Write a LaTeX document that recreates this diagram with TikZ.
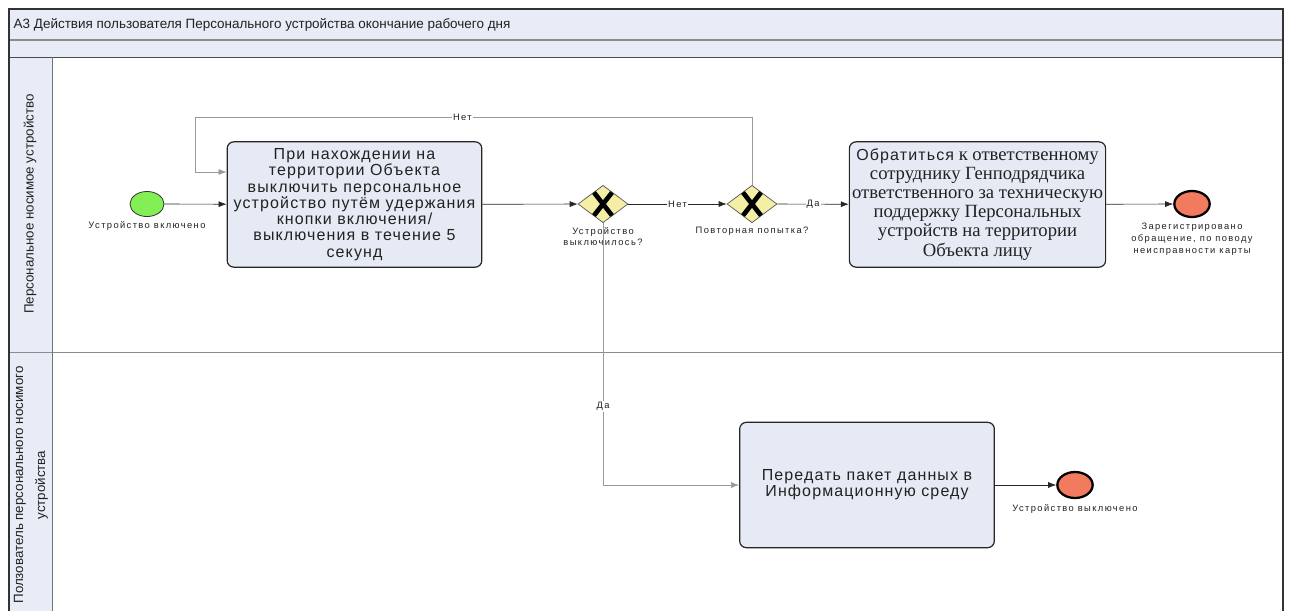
\documentclass[tikz,border=0pt]{standalone}
\usepackage{fontspec}
\setmainfont{Liberation Sans}
\newfontfamily\serifru{Liberation Serif}
\newfontfamily\tasksans[LetterSpace=7]{Liberation Sans}
\newfontfamily\smallsans[LetterSpace=15]{Liberation Sans}
\usetikzlibrary{arrows.meta, shapes.geometric, positioning}

\definecolor{bandfill}{HTML}{E8ECF6}
\definecolor{taskfill}{HTML}{E6EAF4}
\definecolor{gatefill}{HTML}{F4EEA6}
\definecolor{startfill}{HTML}{84EE55}
\definecolor{endfill}{HTML}{F27A5E}
\definecolor{inkgray}{HTML}{222222}

\begin{document}
\begin{tikzpicture}[x = 0.75pt, y = -0.75pt, > = {Latex[length = 6pt, width = 4.5pt]},
	task/.style = {draw = black!85, line width = 0.9pt, fill = taskfill, rounded corners = 5pt,
		minimum width = 191pt, minimum height = 94pt, align = center, inner sep = 2pt, text = inkgray,
		font = \tasksans\fontsize{12}{12.2}\selectfont},
	gateway/.style = {diamond, draw = black!70, line width = 0.5pt, fill = gatefill,
		minimum width = 37.5pt, minimum height = 28pt, inner sep = 0pt},
	startevent/.style = {ellipse, draw = black!80, line width = 0.6pt, fill = startfill,
		minimum width = 25.5pt, minimum height = 18.8pt, inner sep = 0pt},
	endevent/.style = {ellipse, draw = black, line width = 1.7pt, fill = endfill,
		minimum width = 26.5pt, minimum height = 19.5pt, inner sep = 0pt},
	evlabel/.style = {align = center, inner sep = 0.5pt, text = inkgray,
		font = \smallsans\fontsize{7}{8.8}\selectfont},
	flow/.style = {->, draw = black!85, line width = 0.5pt},
	backflow/.style = {flow, draw = black!40},
	flowlabel/.style = {fill = white, inner sep = 0.8pt, text = inkgray,
		font = \smallsans\fontsize{7}{8.8}\selectfont},
	lane/.style = {rotate = 90, align = center, text = inkgray, font = \fontsize{10}{16.5}\selectfont}]

	% Page size
	
	\useasboundingbox (0, 0) rectangle (1289, 611);
	
	% Pool frame and lanes
	
	\fill [bandfill] (9, 9) rectangle (1283, 57);
	\fill [bandfill] (9, 57) rectangle (52, 611);
	\draw [black!45, line width = 0.8pt] (9, 40) -- (1283, 40);
	\draw [black!45, line width = 0.6pt] (9, 352) -- (1283, 352);
	\draw [black!70, line width = 0.6pt] (9, 57) -- (1283, 57);
	\draw [black!55, line width = 0.6pt] (52, 57) -- (52, 611);
	\draw [black!80, line width = 0.8pt] (9, 611) -- (9, 9) -- (1283, 9) -- (1283, 611);
	
	\node [anchor = west, text = inkgray, font = \fontsize{10.1}{12}\selectfont] (title) at (9, 25)
		{А3 Действия пользователя Персонального устройства окончание рабочего дня};
	\node [lane] (lane1) at (30, 204) {Персональное носимое устройство};
	\node [lane] (lane2) at (31, 485) {Ползователь персонального носимого\\устройства};
	
	% Events, tasks and gateways
	
	\node [startevent] (start) at (147, 204) {};
	\node [task] (t1) at (354.5, 204.5) {При нахождении на\\территории Объекта\\выключить персональное\\устройство путём удержания\\кнопки включения/\\выключения в течение 5\\секунд};
	\node [gateway] (g1) at (603, 204) {};
	\node [gateway] (g2) at (752, 204) {};
	\node [task, font = \serifru\fontsize{14}{14.3}\selectfont] (t2) at (977.5, 204.5)
		{{\tasksans\fontsize{12}{14.3}\selectfont Обратиться} к ответственному\\сотруднику Генподрядчика\\ответственного за техническую\\поддержку Персональных\\устройств на территории\\Объекта лицу};
	\node [endevent] (e1) at (1192, 204) {};
	\node [task] (t3) at (867, 485) {Передать пакет данных в\\Информационную среду};
	\node [endevent] (e2) at (1075, 485) {};
	
	% Gateway marks
	
	\foreach \G in {g1, g2}
	{
		\draw [line width = 3.5pt] ([shift = {(-9, -11.5)}] \G.center) -- ([shift = {(9, 11.5)}] \G.center);
		\draw [line width = 3.5pt] ([shift = {(-9, 11.5)}] \G.center) -- ([shift = {(9, -11.5)}] \G.center);
	}
	
	% Labels under events and gateways
	
	\node [evlabel, below = 3pt of start] (startlabel) {Устройство включено};
	\node [evlabel, below = 2.5pt of g1] (g1label) {Устройство\\выключилось?};
	\node [evlabel, below = 2.5pt of g2] (g2label) {Повторная попытка?};
	\node [evlabel, below = 3pt of e1] (e1label) {Зарегистрировано\\обращение, по поводу\\неисправности карты};
	\node [evlabel, below = 3pt of e2] (e2label) {Устройство выключено};
	
	% Sequence flows
	
	\coordinate (loopcorner) at (195, 117);
	
	\draw [flow] (start) -- (t1);
	\draw [flow] (t1) -- (g1);
	\draw [flow] (g1) -- node [flowlabel] {Нет} (g2);
	\draw [flow] (g2) -- node [flowlabel] {Да} (t2);
	\draw [flow] (t2) -- (e1);
	\draw [flow] (t3) -- (e2);
	\draw [backflow] (g2.north) |- node [flowlabel, pos = 0.76] {Нет} (loopcorner) |- ([yshift = 24.4pt] t1.west);
	\draw [backflow] (g1.south) |- node [flowlabel, pos = 0.35] {Да} (t3.west);

\end{tikzpicture}
\end{document}
